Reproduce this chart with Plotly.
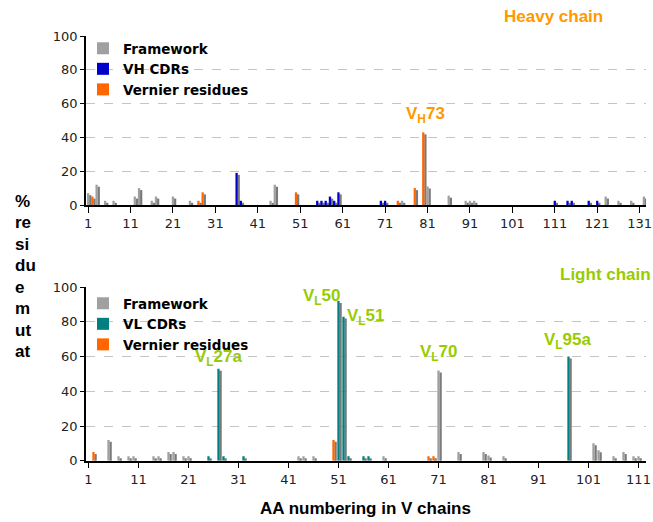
import plotly.graph_objects as go

# ---------------- data ----------------
heavy_pos = [1, 2, 3, 5, 7, 12, 13, 16, 17, 21, 25, 27, 28, 36, 37, 44, 45, 50, 55, 56,
             57, 58, 59, 60, 70, 71, 74, 75, 78, 80, 81, 86, 90, 91, 92, 111, 114, 115, 119, 121,
             123, 126, 129, 132]
heavy_val = [7, 5, 12, 2.5, 2.5, 5, 10, 2.5, 5, 5, 2.5, 2.5, 7.5, 19, 2.5, 2.5, 12, 7.5, 2.5, 2.5,
             2.5, 5, 2.5, 7.5, 2.5, 2.5, 2.5, 2.5, 10, 43, 11, 5.5, 2.5, 2.5, 2.5, 2.5, 2.5, 2.5, 2.5, 2.5,
             5, 2.5, 2.5, 5]
heavy_type = ["F", "V", "F", "F", "F", "F", "F", "F", "F", "F", "F", "V", "V", "C", "C", "F", "F", "V", "C", "C",
              "C", "C", "C", "C", "C", "C", "V", "F", "V", "V", "F", "F", "F", "F", "F", "C", "C", "C", "C", "C",
              "F", "F", "F", "F"]

light_pos = [2, 5, 7, 9, 10, 14, 15, 17, 18, 20, 21, 25, 27, 28, 32, 43, 44, 46, 50, 51,
             52, 53, 56, 57, 60, 69, 70, 71, 75, 80, 81, 84, 97, 102, 103, 106, 108, 110, 111]
light_val = [5, 12, 2.5, 2.5, 2.5, 2.5, 2.5, 5, 5, 2.5, 2.5, 2.5, 53, 2.5, 2.5, 2.5, 2.5, 2.5, 12, 92,
             83, 2.5, 2.5, 2.5, 2.5, 2.5, 2.5, 52, 5, 5, 3, 2.5, 60, 10, 6, 2.5, 5, 2.5, 2.5]
light_type = ["V", "F", "F", "F", "F", "F", "F", "F", "F", "F", "F", "C", "C", "C", "C", "F", "F", "F", "V", "C",
              "C", "C", "C", "C", "F", "V", "V", "F", "F", "F", "F", "F", "C", "F", "F", "F", "F", "F", "F"]

heavy_ticks = list(range(1, 132, 10))
light_ticks = list(range(1, 112, 10))

heavy_names = {"F": "Framework", "C": "VH CDRs", "V": "Vernier residues"}
light_names = {"F": "Framework", "C": "VL CDRs", "V": "Vernier residues"}
heavy_colors = {"F": "#A0A0A0", "C": "#0000CC", "V": "#FF6600"}
light_colors = {"F": "#A0A0A0", "C": "#008080", "V": "#FF6600"}
SHADOW = "#7A7A7A"

# ---------------- geometry helpers (reference pixel coords) ----------------
W, H = 653, 522
L_, R_, T_, B_ = 86, 646, 20, 482   # px of the paper box
ML, MR, MT, MB = L_, W - R_, T_, H - B_


def px(x):
    return (x - L_) / (R_ - L_)


def py(y):
    return (B_ - y) / (B_ - T_)


fig = go.Figure()


def add_chain(pos, val, typ, names, colors, xa, ya, legend, width, shift, drop):
    fig.add_trace(go.Bar(x=pos, y=val, base=[-drop] * len(val), width=width,
                         offset=-width / 2 + shift, marker=dict(color=SHADOW, line=dict(width=0)),
                         showlegend=False, xaxis=xa, yaxis=ya, hoverinfo="skip"))
    for t in ["F", "C", "V"]:
        xs = [p for p, k in zip(pos, typ) if k == t]
        ys = [v for v, k in zip(val, typ) if k == t]
        fig.add_trace(go.Bar(x=xs, y=ys, width=width, offset=-width / 2, name=names[t],
                             marker=dict(color=colors[t], line=dict(width=0)),
                             xaxis=xa, yaxis=ya, legend=legend))


add_chain(heavy_pos, heavy_val, heavy_type, heavy_names, heavy_colors, "x", "y", "legend", 0.54, 0.5, 1.2)
add_chain(light_pos, light_val, light_type, light_names, light_colors, "x2", "y2", "legend2", 0.46, 0.42, 1.1)

tickfont = dict(family="DejaVu Sans", size=13, color="#222222")
xcommon = dict(showline=True, linecolor="black", linewidth=1.5, ticks="outside", ticklen=6,
               tickcolor="black", tickfont=tickfont, showgrid=False, zeroline=False)
ycommon = dict(range=[0, 100], dtick=20, showline=True, linecolor="black", linewidth=1.5,
               ticks="outside", ticklen=4, tickcolor="black", tickfont=tickfont,
               showgrid=True, gridcolor="#C4C4C4", griddash="dash", gridwidth=1, zeroline=False)

legfont = dict(family="DejaVu Sans", size=13.5, color="black", weight="bold")

fig.update_layout(
    width=W, height=H,
    margin=dict(l=ML, r=MR, t=MT, b=MB, autoexpand=False),
    paper_bgcolor="white", plot_bgcolor="white",
    barmode="overlay",
    xaxis=dict(domain=[0, 1], range=[0.5, 132.5], tickvals=heavy_ticks, anchor="y", **xcommon),
    yaxis=dict(domain=[py(205), py(36)], anchor="x", **ycommon),
    xaxis2=dict(domain=[0, 1], range=[0.5, 112.5], tickvals=light_ticks, anchor="y2", **xcommon),
    yaxis2=dict(domain=[py(460.7), py(287.2)], anchor="x2", **ycommon),
    legend=dict(x=px(83), y=py(33), xanchor="left", yanchor="top", font=legfont,
                bgcolor="rgba(0,0,0,0)", traceorder="normal", itemwidth=30),
    legend2=dict(x=px(83), y=py(288), xanchor="left", yanchor="top", font=legfont,
                 bgcolor="rgba(0,0,0,0)", traceorder="normal", itemwidth=30),
    showlegend=True,
)

ann = []


def text(s, x, y, color="black", size=17, xanchor="center"):
    ann.append(dict(text=s, x=px(x), y=py(y), xref="paper", yref="paper", showarrow=False,
                    xanchor=xanchor, yanchor="middle",
                    font=dict(family="Liberation Sans, Arial", size=size, color=color, weight="bold")))


title_lines = ["%", "re", "si", "du", "e", "m", "ut", "at"]
for k, s in enumerate(title_lines):
    text(s, 13, 201 + k * 21.5, xanchor="left")

text("AA numbering in V chains", 365, 508)
text("Heavy chain", 553, 17, color="#FF9900")
text("Light chain", 605, 274, color="#99CC00")
text("V<sub>H</sub>73", 425, 115, color="#FF9900")
text("V<sub>L</sub>27a", 219, 358, color="#99CC00")
text("V<sub>L</sub>50", 322, 297, color="#99CC00")
text("V<sub>L</sub>51", 366, 317, color="#99CC00")
text("V<sub>L</sub>70", 439, 353, color="#99CC00")
text("V<sub>L</sub>95a", 568, 341, color="#99CC00")

fig.update_layout(annotations=ann)
fig.write_html("out.html", config={"displayModeBar": False},
               post_script="document.body.style.margin='0';document.body.style.overflow='hidden';")
